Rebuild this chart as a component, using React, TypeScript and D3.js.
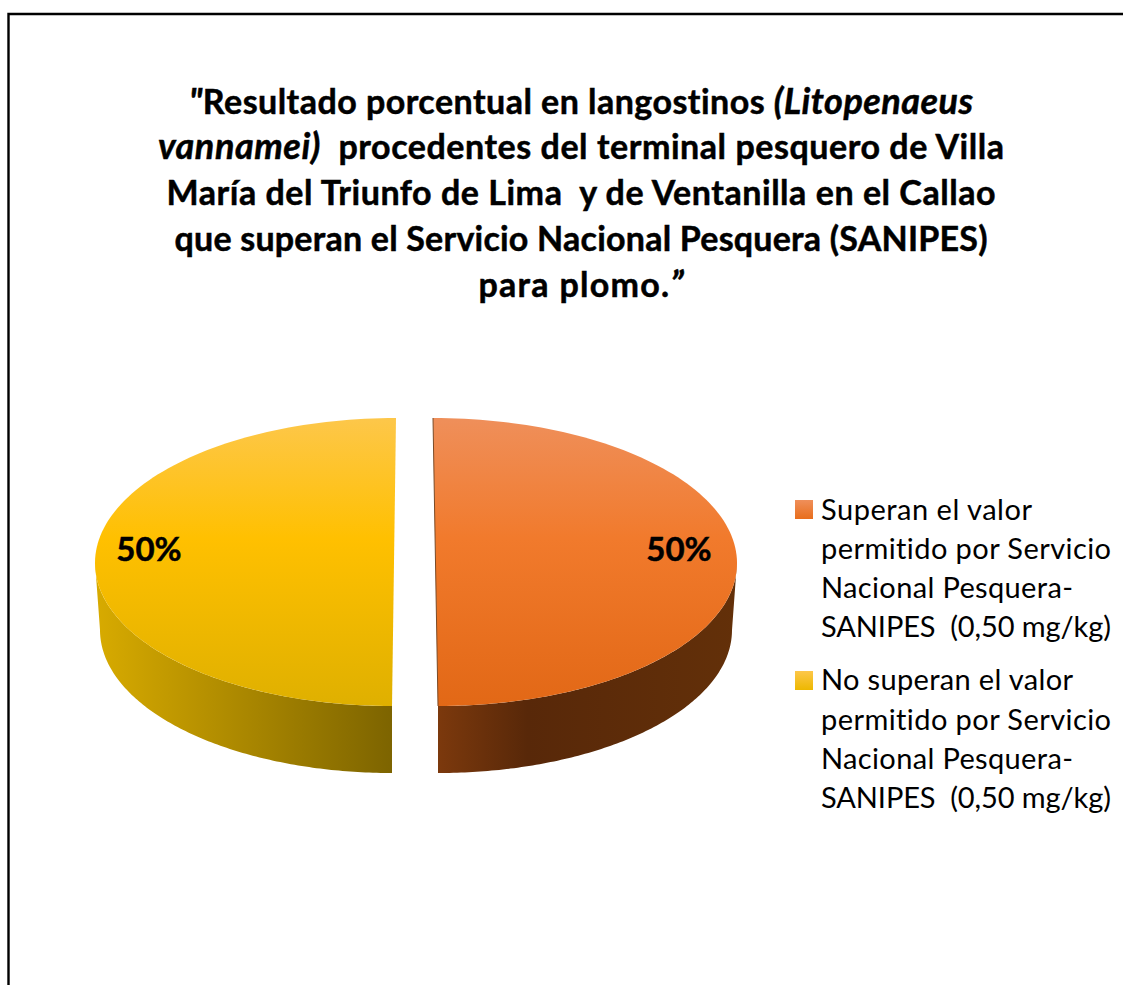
import React from "react";
import * as d3 from "d3";

const categories = [
  ["Superan el valor", "permitido por Servicio", "Nacional Pesquera-", "SANIPES  (0,50 mg/kg)"],
  ["No superan el valor", "permitido por Servicio", "Nacional Pesquera-", "SANIPES  (0,50 mg/kg)"],
];
const values = [50, 50];
const labels = ["50%", "50%"];
const FONT = "Lato, Carlito, 'Open Sans', sans-serif";

type Run = { t: string; i?: boolean };
const titleLines: Run[][] = [
  [{ t: "\"", i: true }, { t: "Resultado porcentual en langostinos " }, { t: "(Litopenaeus", i: true }],
  [{ t: "vannamei)", i: true }, { t: "  procedentes del terminal pesquero de Villa" }],
  [{ t: "María del Triunfo de Lima  y de Ventanilla en el Callao" }],
  [{ t: "que superan el Servicio Nacional Pesquera (SANIPES)" }],
  [{ t: "para plomo." }, { t: "”", i: true }],
];
const titleBaselines = [114, 159, 205, 251, 297];
const titleWidths = [784, 846, 829, 813, 205];
const legendBaselines = [[520, 559, 598, 637], [690, 730, 769, 808]];
const legendWidths = [[211, 290, 252, 290], [252, 290, 252, 290]];
const legendSwatchY = [500, 671];

const sliceGeo = [
  { topA: 433, topB: 438, rx: 301.5, wallRx: 294, wallA: 438, lx: 679 },
  { topA: 396, topB: 392, rx: 299, wallRx: 292, wallA: 392, lx: 149 },
];
const TOP_Y = 418, BOT_Y = 706, CY = 562, RY = 144, WALL_CY = 630, WALL_RY = 143;

const pieGen = d3.pie<number>().sort(null)(values);
const lineGen = d3.line<[number, number]>().curve(d3.curveLinear);
const steps = d3.range(0, 121).map((d) => d / 120);

function topPoint(i: number, a: number): [number, number] {
  const g = sliceGeo[i];
  const y = CY - RY * Math.cos(a);
  const apex = g.topA + ((g.topB - g.topA) * (y - TOP_Y)) / (BOT_Y - TOP_Y);
  return [apex + g.rx * Math.sin(a), y];
}
function wallPoint(i: number, a: number): [number, number] {
  const g = sliceGeo[i];
  return [g.wallA + g.wallRx * Math.sin(a), WALL_CY - WALL_RY * Math.cos(a)];
}
function topPath(i: number) {
  const p = pieGen[i];
  const sc = d3.scaleLinear().domain([0, 1]).range([p.startAngle, p.endAngle]);
  return lineGen(steps.map((s) => topPoint(i, sc(s)))) + "Z";
}
function wallPath(i: number) {
  const [from, to] = i === 0 ? [Math.PI / 2, Math.PI] : [Math.PI, (3 * Math.PI) / 2];
  const sc = d3.scaleLinear().domain([0, 1]).range([from, to]);
  const upper = steps.map((s) => topPoint(i, sc(s)));
  const lower = steps.map((s) => wallPoint(i, sc(s))).reverse();
  return lineGen([...upper, ...lower]) + "Z";
}

export default function App() {
  return (
    <svg width={1123} height={985} style={{ position: "absolute", left: 0, top: 0, display: "block", background: "#fff", fontVariantLigatures: "none" }} fontFamily={FONT}>
      <defs>
        <linearGradient id="topO" x1="0" y1="0" x2="0" y2="1">
          <stop offset="0" stopColor="#EF8F5A" />
          <stop offset="0.42" stopColor="#F17A2C" />
          <stop offset="1" stopColor="#E26816" />
        </linearGradient>
        <linearGradient id="topY" x1="0" y1="0" x2="0" y2="1">
          <stop offset="0" stopColor="#FDC74A" />
          <stop offset="0.42" stopColor="#FFC000" />
          <stop offset="1" stopColor="#DFB000" />
        </linearGradient>
        <linearGradient id="wallO" x1="0" y1="0" x2="1" y2="0">
          <stop offset="0" stopColor="#7C390D" />
          <stop offset="0.3" stopColor="#582809" />
          <stop offset="1" stopColor="#633009" />
        </linearGradient>
        <linearGradient id="wallY" x1="0" y1="0" x2="1" y2="0">
          <stop offset="0" stopColor="#D8AB00" />
          <stop offset="1" stopColor="#7D6400" />
        </linearGradient>
        <linearGradient id="swO" x1="0" y1="0" x2="0" y2="1">
          <stop offset="0" stopColor="#EF8F5A" />
          <stop offset="1" stopColor="#E86E1C" />
        </linearGradient>
        <linearGradient id="swY" x1="0" y1="0" x2="0" y2="1">
          <stop offset="0" stopColor="#FDC74A" />
          <stop offset="1" stopColor="#EDB800" />
        </linearGradient>
      </defs>

      <path d="M8.5 985V14H1123" fill="none" stroke="#000" strokeWidth={2.4} />

      <g fontSize={34} fontWeight={700} fill="#000" stroke="#000" strokeWidth={0.5} textAnchor="middle">
        {titleLines.map((runs, i) => (
          <text key={i} x={581} y={titleBaselines[i]} textLength={titleWidths[i]} lengthAdjust="spacing" xmlSpace="preserve">
            {runs.map((r, j) => (
              <tspan key={j} fontStyle={r.i ? "italic" : "normal"} fontSize={r.i ? 36 : 34}>{r.t}</tspan>
            ))}
          </text>
        ))}
      </g>

      {pieGen.map((_, i) => (
        <g key={i}>
          <path d={wallPath(i)} fill={i === 0 ? "url(#wallO)" : "url(#wallY)"} />
          <path d={topPath(i)} fill={i === 0 ? "url(#topO)" : "url(#topY)"} />
          {i === 0 && (
            <path d={lineGen([topPoint(i, pieGen[i].startAngle), topPoint(i, pieGen[i].endAngle)]) || ""} stroke="#7A4A26" strokeWidth={1} fill="none" />
          )}
          <text x={sliceGeo[i].lx} y={561} fontSize={33} fontWeight={700} textAnchor="middle" fill="#000" stroke="#000" strokeWidth={0.5}>{labels[i]}</text>
        </g>
      ))}

      {categories.map((lines, i) => (
        <g key={i}>
          <rect x={795} y={legendSwatchY[i]} width={18} height={19} fill={i === 0 ? "url(#swO)" : "url(#swY)"} />
          {lines.map((l, k) => (
            <text key={k} x={821} y={legendBaselines[i][k]} fontSize={29} fill="#000" textLength={legendWidths[i][k]} lengthAdjust="spacing" xmlSpace="preserve">{l}</text>
          ))}
        </g>
      ))}
    </svg>
  );
}
